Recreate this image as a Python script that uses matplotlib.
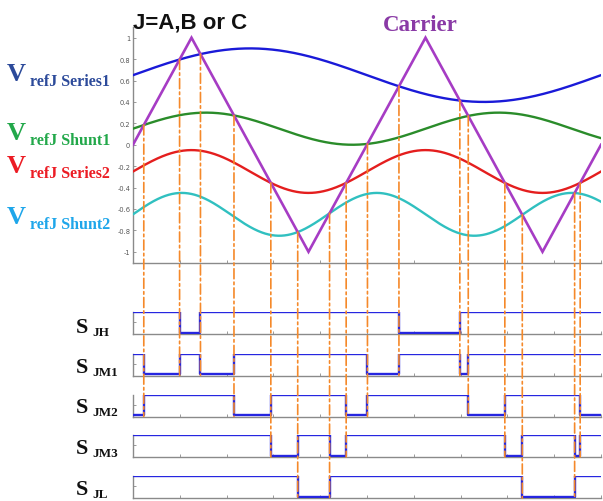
import numpy as np
import matplotlib
matplotlib.use("Agg")
import matplotlib.pyplot as plt
from matplotlib.patches import ConnectionPatch

W, H = 603, 502

# Triangular carrier: vertices (time in carrier periods, value)
carrier_t = [0.0, 0.25, 0.75, 1.25, 1.75, 2.0]
carrier_v = [0.0, 1.0, -1.0, 1.0, -1.0, 0.0]

# Sinusoidal reference voltages
ref_names = ["Series1", "Shunt1", "Series2", "Shunt2"]
ref_offset = [0.65, 0.15, -0.25, -0.65]
ref_amp = [0.25, 0.15, 0.20, 0.20]
ref_cycles = [1.0, 1.6, 2.0, 2.4]      # cycles across the 2-period window
ref_colors = ["#1a1ad8", "#2a8c2a", "#e41e1e", "#30c0c0"]
label_colors = ["#2c4a9a", "#22a84a", "#ec1c24", "#1ea6ea"]

# Switching signals
switch_subs = ["JH", "JM1", "JM2", "JM3", "JL"]

y_ticks = [1, 0.8, 0.6, 0.4, 0.2, 0, -0.2, -0.4, -0.6, -0.8, -1]
y_tick_labels = ["1", "0.8", "0.6", "0.4", "0.2", "0", "-0.2", "-0.4", "-0.6", "-0.8", "-1"]
x_ticks = np.round(np.arange(0, 2.001, 0.2), 2)

T_END = 2.0
t = np.linspace(0, T_END, 40001)
carrier = np.interp(t, carrier_t, carrier_v)


def ref_wave(j, tt):
    return ref_offset[j] + ref_amp[j] * np.sin(2 * np.pi * ref_cycles[j] * tt / T_END)


refs = [ref_wave(j, t) for j in range(4)]

# crossing times between carrier and each reference
crossings = []
for j in range(4):
    d = carrier - refs[j]
    idx = np.where(np.sign(d[:-1]) * np.sign(d[1:]) < 0)[0]
    tc = t[idx] - d[idx] * (t[idx + 1] - t[idx]) / (d[idx + 1] - d[idx])
    crossings.append(tc)


def switch_state(k, c, r):
    on = np.zeros_like(c, dtype=bool)
    if k > 0:
        on |= c > r[k - 1]
    if k < 4:
        on |= c < r[k]
    return on.astype(float)


def px(x):
    return x / W


def py(y):
    return 1 - y / H


fig = plt.figure(figsize=(W / 100, H / 100), dpi=100)
fig.patch.set_facecolor("white")

gray = "#8a8a8a"
x_left, x_right = 133, 601

# ---- Top axes: references and carrier ----
ax = fig.add_axes([px(x_left), py(263.5), px(x_right - x_left), (263.5 - 28) / H])
ax.plot(carrier_t, carrier_v, color="#a63cc4", lw=1.9, zorder=5, solid_joinstyle="miter")
for j in range(4):
    ax.plot(t, refs[j], color=ref_colors[j], lw=1.7, zorder=4)
ax.set_xlim(0, T_END)
ax.set_ylim(-1.1, 1.1)
for s in ["top", "right"]:
    ax.spines[s].set_visible(False)
for s in ["left", "bottom"]:
    ax.spines[s].set_color(gray)
    ax.spines[s].set_linewidth(1.0)
ax.set_yticks(y_ticks)
ax.set_yticklabels(y_tick_labels)
ax.set_xticks(x_ticks)
ax.set_xticklabels([])
ax.tick_params(direction="in", length=2.5, width=0.6, color=gray,
               labelsize=4.8, labelcolor="#555555", pad=2)

# ---- Switching signal axes ----
panel_tops = [313, 354.5, 395.5, 436, 477]
panel_h = 22
panels = []
for k in range(5):
    top = panel_tops[k]
    pa = fig.add_axes([px(x_left), py(top + panel_h), px(x_right - x_left), panel_h / H])
    ev = np.sort(np.concatenate([[0.0], *crossings, [T_END]]))
    mids = (ev[:-1] + ev[1:]) / 2
    cm = np.interp(mids, carrier_t, carrier_v)
    rm = [ref_wave(j, mids) for j in range(4)]
    st = switch_state(k, cm, rm)
    pa.plot(ev, np.append(st, st[-1]), drawstyle="steps-post",
            color="#2626e0", lw=1.7, zorder=3)
    pa.set_xlim(0, T_END)
    pa.set_ylim(-0.06, 1.0)
    for s in ["top", "right"]:
        pa.spines[s].set_visible(False)
    for s in ["left", "bottom"]:
        pa.spines[s].set_color(gray)
        pa.spines[s].set_linewidth(1.0)
    pa.set_xticks(x_ticks)
    pa.set_xticklabels([])
    pa.set_yticks([0.5])
    pa.set_yticklabels([])
    pa.tick_params(direction="in", length=2.5, width=0.6, color=gray)
    pa.patch.set_alpha(0)
    panels.append(pa)

# ---- Dash-dot guide lines from each crossing down to the switched panels ----
for j in range(4):
    for tc in crossings[j]:
        v = float(ref_wave(j, tc))
        con = ConnectionPatch(xyA=(tc, v), coordsA=ax.transData,
                              xyB=(tc, -0.06), coordsB=panels[j + 1].transData,
                              arrowstyle="-", color="#f5892a", lw=1.2,
                              linestyle=(0, (6, 2, 1.5, 2)), zorder=6)
        fig.add_artist(con)

# ---- Text labels ----
serif = "Liberation Serif"
fig.text(px(133), py(28), "J=A,B or C", fontsize=16, fontweight="bold",
         family="Liberation Sans", color="#111111", va="baseline", ha="left")
fig.text(px(383), py(31), "Carrier", fontsize=16.5, fontweight="bold",
         family=serif, color="#8a3aa6", va="baseline", ha="left")

label_base = [81, 140, 173, 224]
for j in range(4):
    b = label_base[j]
    fig.text(px(7), py(b), "V", fontsize=19, fontweight="bold", family=serif,
             color=label_colors[j], va="baseline", ha="left")
    fig.text(px(30), py(b + 5), "refJ " + ref_names[j], fontsize=11.5,
             fontweight="bold", family=serif, color=label_colors[j],
             va="baseline", ha="left")

s_base = [333, 373, 413, 454, 495]
for k in range(5):
    b = s_base[k]
    fig.text(px(76), py(b), "S", fontsize=16, fontweight="bold", family=serif,
             color="#111111", va="baseline", ha="left")
    fig.text(px(92), py(b + 3), switch_subs[k], fontsize=9.5, fontweight="bold",
             family=serif, color="#111111", va="baseline", ha="left")

fig.savefig("out.png", dpi=100, facecolor="white")
